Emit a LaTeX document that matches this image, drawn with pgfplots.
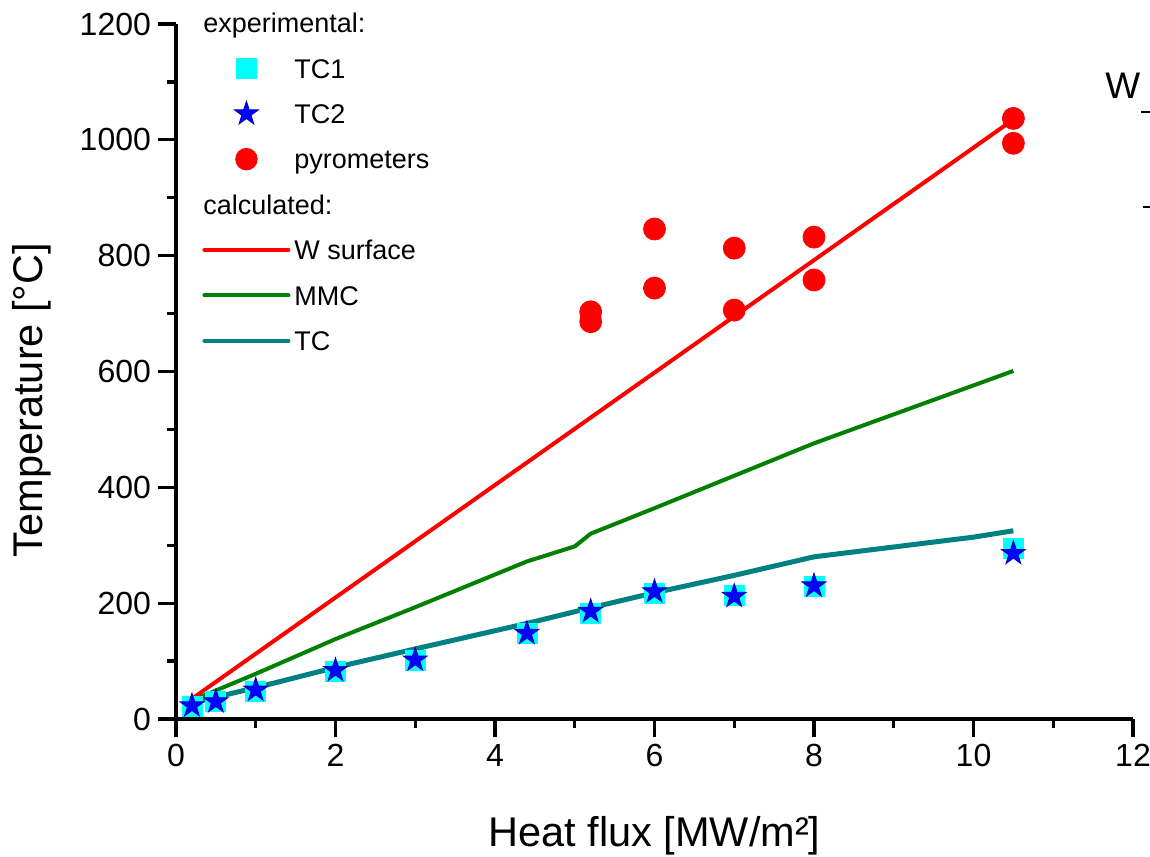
\documentclass[border=0pt]{standalone}
\usepackage{fontspec}
\setmainfont{Liberation Sans}
\usepackage{pgfplots}
\pgfplotsset{compat=1.18}
\usetikzlibrary{plotmarks}
\definecolor{tcteal}{RGB}{0,128,128}
\definecolor{mmcgreen}{RGB}{0,128,0}
\definecolor{starblue}{RGB}{0,0,255}
\definecolor{tccyan}{RGB}{0,255,255}
\definecolor{pyrored}{RGB}{255,0,0}
\pgfdeclareplotmark{fstar}{%
  \pgfpathmoveto{\pgfpointpolar{90}{\pgfplotmarksize}}%
  \pgfpathlineto{\pgfpointpolar{126}{0.382\pgfplotmarksize}}%
  \pgfpathlineto{\pgfpointpolar{162}{\pgfplotmarksize}}%
  \pgfpathlineto{\pgfpointpolar{198}{0.382\pgfplotmarksize}}%
  \pgfpathlineto{\pgfpointpolar{234}{\pgfplotmarksize}}%
  \pgfpathlineto{\pgfpointpolar{270}{0.382\pgfplotmarksize}}%
  \pgfpathlineto{\pgfpointpolar{306}{\pgfplotmarksize}}%
  \pgfpathlineto{\pgfpointpolar{342}{0.382\pgfplotmarksize}}%
  \pgfpathlineto{\pgfpointpolar{18}{\pgfplotmarksize}}%
  \pgfpathlineto{\pgfpointpolar{54}{0.382\pgfplotmarksize}}%
  \pgfpathclose
  \pgfusepathqfillstroke}
\pgfplotsset{
  legline/.style={legend image code/.code={\path[draw=none, fill=none] (0pt,0pt) -- (42pt,0pt);
      \begin{pgfinterruptboundingbox}\draw[##1, line cap=round] (0pt,2.4pt) -- (42pt,2.4pt);\end{pgfinterruptboundingbox}}},
  legmark/.style={legend image code/.code={\path[draw=none, fill=none] (0pt,0pt) -- (42pt,0pt);
      \begin{pgfinterruptboundingbox}\draw[##1] plot[only marks] coordinates {(21pt,2.4pt)};\end{pgfinterruptboundingbox}}},
}
\begin{document}
\begin{tikzpicture}
\begin{axis}[
  name=ax,
  scale only axis, width=478.5pt, height=347.5pt,
  xmin=0, xmax=12, ymin=0, ymax=1200,
  clip=false,
  axis x line=bottom, axis y line=left,
  axis line style={-, line width=1.6pt},
  xtick={0,2,...,12}, ytick={0,200,...,1200},
  minor x tick num=1, minor y tick num=1,
  tick align=outside, major tick length=9pt, minor tick length=4.5pt,
  every tick/.style={line width=1.6pt, black},
  ticklabel style={font=\fontsize{16}{19}\selectfont},
  /pgf/number format/assume math mode=true,
  /pgf/number format/1000 sep={},
  xlabel={Heat flux [MW/m²]}, ylabel={Temperature [°C]},
  label style={font=\fontsize{20.75}{24}\selectfont},
  xlabel style={at={(axis description cs:0.5,-0.184)}, anchor=base},
  ylabel style={at={(axis description cs:-0.1505,0.459)}, anchor=center},
  legend style={at={(axis description cs:0.0293,1.0153)}, anchor=north west,
    draw=none, fill=none, inner sep=0pt, row sep=8.7pt, column sep=1pt,
    font=\fontsize{13.5}{16}\selectfont,
    nodes={inner sep=2pt, text height=0.75em, text depth=0.25em}},
  legend cell align=left,
]
% calculated lines
\addplot[forget plot, pyrored, line width=2pt] coordinates {(0.2,35) (10.5,1035)};
\addplot[forget plot, mmcgreen, line width=2pt] coordinates {
  (0.2,32) (1,78) (2,138) (3,193) (4.4,272) (5,298) (5.2,320) (6,364) (7,420) (8,476) (10.5,601)};
\addplot[forget plot, tcteal, line width=2.5pt] coordinates {
  (0.2,28) (1,54) (2,89) (3,121) (4.4,165) (5.2,192) (6,218) (7,248) (8,280) (10,314) (10.5,325)};
% experimental
\addplot[forget plot, only marks, mark=square*, mark size=5pt, tccyan] coordinates {
  (0.2,22) (0.5,30) (1,48) (2,82) (3,102) (4.4,147) (5.2,183) (6,217) (7,213) (8,229) (10.5,295)};
\addplot[forget plot, only marks, mark=fstar, mark size=6.3pt, draw=starblue!75!black, fill=starblue, line width=0.4pt] coordinates {
  (0.2,23) (0.5,30) (1,50) (2,84) (3,102) (4.4,148) (5.2,186) (6,220) (7,212) (8,230) (10.5,286)};
\addplot[forget plot, only marks, mark=*, mark size=5.5pt, pyrored] coordinates {
  (5.2,703) (5.2,686) (6,846) (6,744) (7,813) (7,706) (8,832) (8,758) (10.5,1037) (10.5,994)};
% legend
\addlegendimage{empty legend}\addlegendentry{\hspace*{-45.5pt}experimental:}
\addlegendimage{legmark, mark=square*, mark size=5pt, tccyan}\addlegendentry{TC1}
\addlegendimage{legmark, mark=fstar, mark size=6.3pt, draw=starblue!75!black, fill=starblue, line width=0.4pt}\addlegendentry{TC2}
\addlegendimage{legmark, mark=*, mark size=5.4pt, pyrored}\addlegendentry{pyrometers}
\addlegendimage{empty legend}\addlegendentry{\hspace*{-45.5pt}calculated:}
\addlegendimage{legline, pyrored, line width=2pt}\addlegendentry{W surface}
\addlegendimage{legline, mmcgreen, line width=2pt}\addlegendentry{MMC}
\addlegendimage{legline, tcteal, line width=2pt}\addlegendentry{TC}
% cut-off remnants at right edge
\node[anchor=base west, inner sep=0pt, font=\fontsize{18.5}{22}\selectfont] at (axis description cs:0.9708,0.8935) {W};
\draw[line width=0.8pt] (axis description cs:1.0084,0.8734) -- (axis description cs:1.0178,0.8734);
\draw[line width=0.8pt] (axis description cs:1.0100,0.7367) -- (axis description cs:1.0178,0.7367);
\end{axis}
\pgfresetboundingbox
\path[use as bounding box] (ax.south west) ++(-88pt,-68.5pt) rectangle ++(575pt,428pt);
\end{tikzpicture}
\end{document}
